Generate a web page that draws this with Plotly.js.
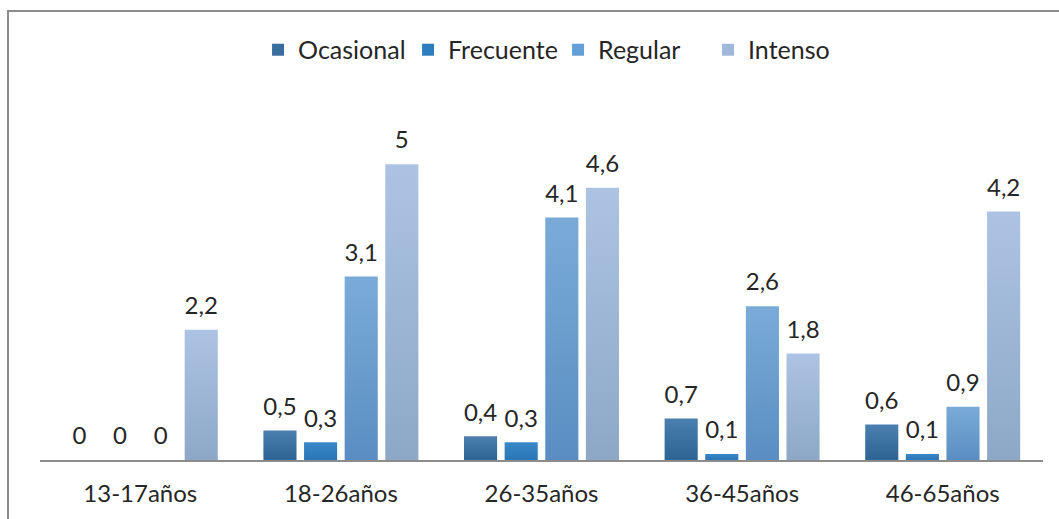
<!DOCTYPE html>
<html>
<head>
<meta charset="utf-8">
<script src="https://cdn.plot.ly/plotly-3.0.1.min.js"></script>
<style>
html,body{margin:0;padding:0;background:#fff;}
#chart{width:1059px;height:519px;}
</style>
</head>
<body>
<div id="chart"></div>
<script>
const categories = ["13-17años", "18-26años", "26-35años", "36-45años", "46-65años"];
const seriesNames = ["Ocasional", "Frecuente", "Regular", "Intenso"];
const ocasional = [0, 0.5, 0.4, 0.7, 0.6];
const frecuente = [0, 0.3, 0.3, 0.1, 0.1];
const regular   = [0, 3.1, 4.1, 2.6, 0.9];
const intenso   = [2.2, 5, 4.6, 1.8, 4.2];

const seriesValues = [ocasional, frecuente, regular, intenso];
const baseColors = ["#3a6e9f", "#2e7dbd", "#64a0d6", "#a0b9db"];
const gradStops = [
  ["#4a7fb0", "#2d6494"],
  ["#3a88c8", "#2a76b5"],
  ["#7aabd8", "#5a8dc2"],
  ["#adc3e3", "#8da8c7"]
];
const FONT = "Lato, 'Noto Sans', sans-serif";
const GAP = 0.19;

const fmt = v => String(v).replace('.', ',');

const barTraces = seriesValues.map((vals, i) => ({
  type: 'bar',
  name: seriesNames[i],
  x: categories,
  y: vals,
  offsetgroup: 'g' + i,
  marker: {color: baseColors[i], line: {width: 0}},
  hoverinfo: 'x+y'
}));

// value labels: text-only scatter traces grouped like the bars
const labelTraces = seriesValues.map((vals, i) => ({
  type: 'scatter',
  mode: 'markers+text',
  x: categories,
  y: vals,
  offsetgroup: 'g' + i,
  text: vals.map(fmt),
  textposition: 'top center',
  textfont: {family: FONT, size: 24, color: '#262626'},
  marker: {size: 14, opacity: 0, color: baseColors[i]},
  cliponaxis: false,
  showlegend: false,
  hoverinfo: 'skip'
}));

const layout = {
  width: 1059,
  height: 519,
  margin: {l: 40, r: 16, t: 105, b: 59},
  paper_bgcolor: '#ffffff',
  plot_bgcolor: '#ffffff',
  font: {family: FONT, size: 24, color: '#262626'},
  barmode: 'group',
  bargap: GAP,
  bargroupgap: 0.185,
  scattermode: 'group',
  scattergap: GAP,
  showlegend: true,
  legend: {
    orientation: 'h',
    x: 0.5165, xanchor: 'center',
    y: 1.155, yanchor: 'middle',
    entrywidth: 105,
    entrywidthmode: 'pixels',
    font: {family: FONT, size: 25, color: '#262626'},
    traceorder: 'normal'
  },
  xaxis: {
    type: 'category',
    showline: true,
    linecolor: '#8c8c8c',
    linewidth: 1.5,
    ticks: '',
    ticklabelstandoff: 12,
    tickfont: {family: FONT, size: 24, color: '#262626'},
    showgrid: false,
    zeroline: false
  },
  yaxis: {
    range: [0, 6],
    visible: false,
    showgrid: false,
    zeroline: false
  },
  shapes: [{
    type: 'rect', xref: 'paper', yref: 'paper',
    x0: -0.0319, x1: 1.2, y0: -0.6, y1: 1.2648,
    line: {color: '#8c8c8c', width: 2},
    fillcolor: 'rgba(0,0,0,0)',
    layer: 'below'
  }]
};

function applyGradients(gd) {
  const svg = gd.querySelector('.main-svg');
  if (!svg) return;
  let defs = svg.querySelector('defs');
  if (!defs) {
    defs = document.createElementNS('http://www.w3.org/2000/svg', 'defs');
    svg.insertBefore(defs, svg.firstChild);
  }
  gradStops.forEach((stops, i) => {
    const id = 'bargrad' + i;
    if (!svg.querySelector('#' + id)) {
      const g = document.createElementNS('http://www.w3.org/2000/svg', 'linearGradient');
      g.setAttribute('id', id);
      g.setAttribute('x1', '0'); g.setAttribute('y1', '0');
      g.setAttribute('x2', '0'); g.setAttribute('y2', '1');
      [[0, stops[0]], [1, stops[1]]].forEach(([o, c]) => {
        const s = document.createElementNS('http://www.w3.org/2000/svg', 'stop');
        s.setAttribute('offset', o);
        s.setAttribute('stop-color', c);
        g.appendChild(s);
      });
      defs.appendChild(g);
    }
  });
  const traceGroups = gd.querySelectorAll('.barlayer .trace');
  traceGroups.forEach((tg, i) => {
    tg.querySelectorAll('path').forEach(p => {
      p.style.fill = 'url(#bargrad' + i + ')';
    });
  });
}

Plotly.newPlot('chart', barTraces.concat(labelTraces), layout, {displayModeBar: false, staticPlot: true}).then(gd => {
  applyGradients(gd);
  gd.on('plotly_afterplot', () => applyGradients(gd));
});
</script>
</body>
</html>
